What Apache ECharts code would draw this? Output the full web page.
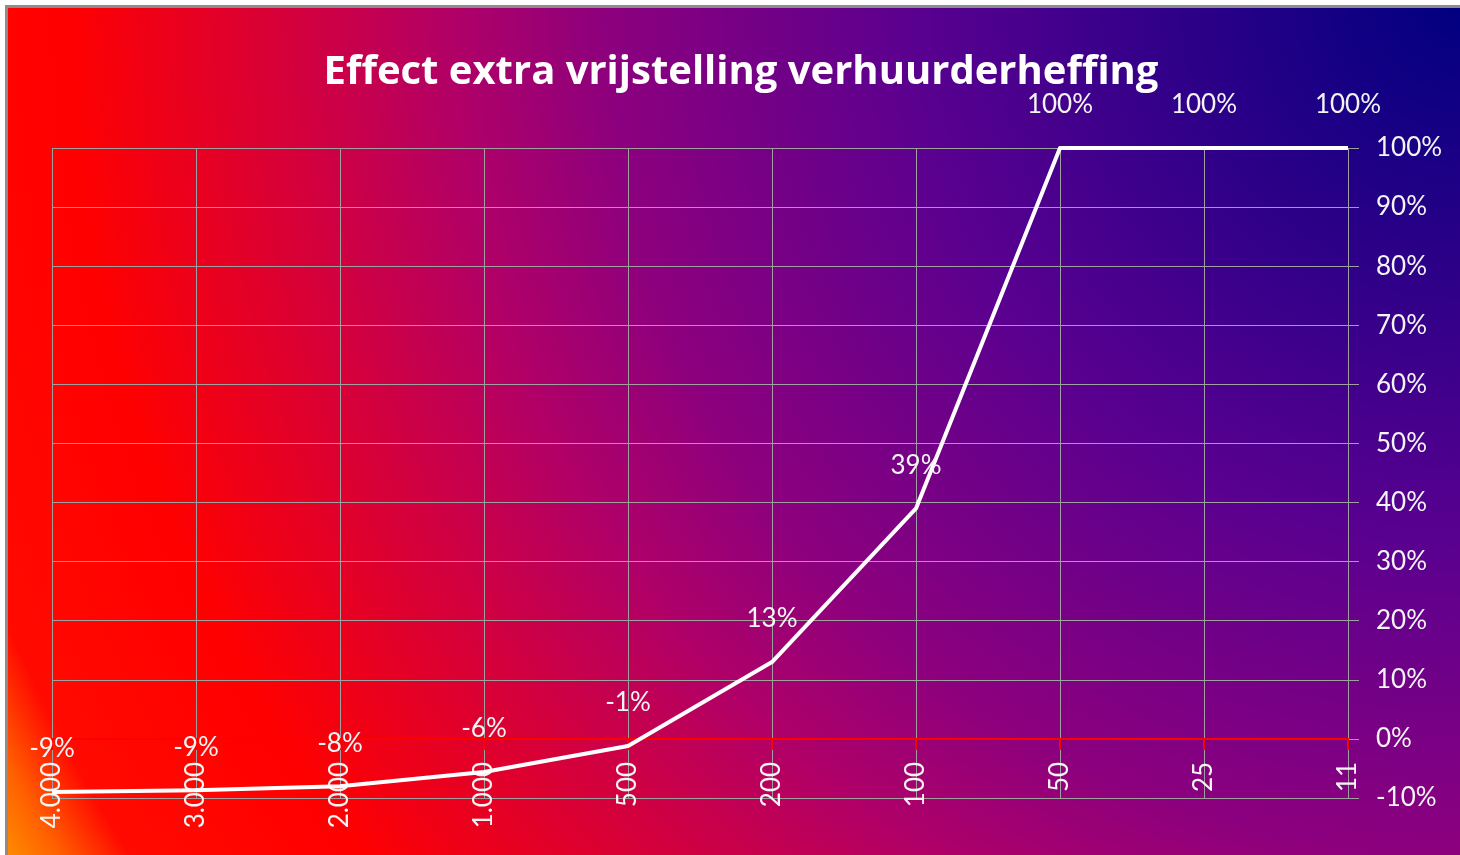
<!DOCTYPE html>
<html>
<head>
<meta charset="utf-8">
<script src="https://cdn.jsdelivr.net/npm/echarts@6/dist/echarts.min.js"></script>
<style>
html,body{margin:0;padding:0;background:#fff;overflow:hidden;width:1460px;height:855px;}
#wrap{position:absolute;left:5px;top:5px;border-left:3px solid #8c8c8c;border-top:3px solid #8c8c8c;width:1452px;height:847px;}
#chart{width:1452px;height:847px;}
</style>
</head>
<body>
<div id="wrap"><div id="chart"></div></div>
<script>
const titleText = 'Effect extra vrijstelling verhuurderheffing';
const categories = ['4.000', '3.000', '2.000', '1.000', '500', '200', '100', '50', '25', '11'];
const values = [-0.09, -0.087, -0.08, -0.056, -0.012, 0.13, 0.39, 1, 1, 1];
const yMin = -0.1, yMax = 1, yStep = 0.1;

const pct = v => Math.round(v * 100) + '%';
const font = 'Lato, Calibri, sans-serif';

const gridTop = 140, gridBottom = 57, chartH = 847;
const plotH = chartH - gridTop - gridBottom;
// shift the category axis up to the 0% line
const zeroOffset = -plotH * (0 - yMin) / (yMax - yMin);

const chart = echarts.init(document.getElementById('chart'));
chart.setOption({
  backgroundColor: {
    type: 'radial', x: 1452, y: -8, r: 1700, global: true,
    colorStops: [
      {offset: 0, color: '#000080'},
      {offset: 0.32, color: '#5a0090'},
      {offset: 0.5, color: '#8c007e'},
      {offset: 0.59, color: '#b00068'},
      {offset: 0.68, color: '#d20040'},
      {offset: 0.82, color: '#ff0000'},
      {offset: 0.93, color: '#ff0a00'},
      {offset: 0.965, color: '#ff6000'},
      {offset: 1, color: '#ff9800'}
    ]
  },
  animation: false,
  title: {
    text: titleText,
    left: 728, top: 40, textAlign: 'center',
    textStyle: {color: '#ffffff', fontFamily: '"Open Sans", sans-serif', fontWeight: 'bold', fontSize: 40}
  },
  grid: {left: 44, top: gridTop, right: 112, bottom: gridBottom, containLabel: false, outerBoundsMode: 'none'},
  xAxis: [{
    type: 'category', data: categories, boundaryGap: false,
    offset: zeroOffset,
    axisLine: {show: true, onZero: false, lineStyle: {color: '#ff0000', width: 2}},
    axisTick: {show: true, length: 11, inside: false, lineStyle: {color: '#ff0000', width: 2}},
    axisLabel: {rotate: 90, margin: 23, color: '#f4f4f4', fontFamily: font, fontSize: 26},
    splitLine: {show: true, lineStyle: {color: '#a0a0a0', width: 1}}
  }],
  yAxis: {
    type: 'value', position: 'right', min: yMin, max: yMax, interval: yStep,
    axisLine: {show: false},
    axisTick: {show: true, length: 11, lineStyle: {color: '#a0a0a0'}},
    axisLabel: {formatter: pct, margin: 28, color: '#f4f4f4', fontFamily: font, fontSize: 26},
    splitLine: {show: true, lineStyle: {color: '#a0a0a0', width: 1}}
  },
  series: [{
    type: 'line', data: values, showSymbol: true, symbol: 'circle', symbolSize: 0,
    itemStyle: {color: '#ffffff'},
    lineStyle: {color: '#ffffff', width: 4, join: 'round'},
    label: {show: true, position: 'top', distance: 30, formatter: p => pct(p.value),
      color: '#f4f4f4', fontFamily: font, fontSize: 26},
    labelLayout: {hideOverlap: false},
    z: 5
  }]
});
</script>
</body>
</html>
